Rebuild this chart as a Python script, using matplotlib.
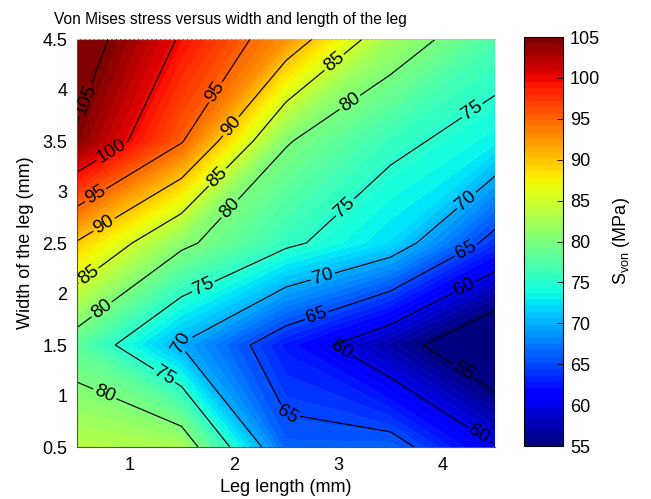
import numpy as np
import matplotlib
matplotlib.use('Agg')
import matplotlib.pyplot as plt
from matplotlib import ticker
from matplotlib.cm import ScalarMappable
from matplotlib.colors import Normalize

# grid of the parameter study (mm)
leg_length = [0.5, 1.5, 2.5, 3.5, 4.5]
leg_width = [0.5, 1.5, 2.5, 3.5, 4.5]

# von Mises stress (MPa), one row per leg width
stress_w05 = [83.5, 82.6, 66.2, 66.4, 60.2]
stress_w15 = [78.0, 69.8, 62.5, 57.0, 50.6]
stress_w25 = [89.7, 80.8, 75.7, 72.1, 63.7]
stress_w35 = [104.5, 95.3, 80.3, 75.9, 73.3]
stress_w45 = [107.3, 99.6, 92.6, 82.2, 77.1]

line_levels = list(range(55, 110, 5))
cbar_ticks = list(range(55, 110, 5))
x_ticks = [1, 2, 3, 4]
y_ticks = [0.5, 1, 1.5, 2, 2.5, 3, 3.5, 4, 4.5]

# where the contour labels sit (data coords)
label_pos = [(0.605, 3.90), (0.835, 3.39), (0.69, 2.95), (0.77, 2.66), (0.64, 2.14),
             (0.75, 1.83), (0.77, 1.03), (1.84, 3.97), (1.98, 3.64), (1.84, 3.15),
             (1.98, 2.82), (1.71, 2.07), (1.50, 1.52), (1.33, 1.19), (2.97, 4.26),
             (3.13, 3.85), (4.28, 3.80), (3.03, 2.89), (4.20, 2.95), (4.21, 2.45),
             (2.84, 2.22), (4.21, 2.07), (2.78, 1.83), (3.02, 1.43), (4.20, 1.25),
             (2.51, 0.78), (4.37, 0.67)]

plt.rcParams['font.family'] = ['Liberation Sans', 'DejaVu Sans']
plt.rcParams['mathtext.default'] = 'regular'

X, Y = np.meshgrid(leg_length, leg_width)
Z = np.array([stress_w05, stress_w15, stress_w25, stress_w35, stress_w45])

cmap = plt.get_cmap('jet', 64)
fig = plt.figure(figsize=(6.51, 4.99), dpi=100)
ax = fig.add_axes([77/651, 52/499, 418/651, 408/499])

cf = ax.contourf(X, Y, Z, levels=np.linspace(55, 105, 65), cmap=cmap, vmin=55, vmax=105,
                 extend='both', antialiased=True)
cf.set_edgecolor('face'); cf.set_linewidth(0.4)
cs = ax.contour(X, Y, Z, levels=line_levels, colors='k', linewidths=0.85)
ax.clabel(cs, fmt='%d', fontsize=13.5, manual=label_pos, inline=True, inline_spacing=2)

ax.set_xlim(0.5, 4.5); ax.set_ylim(0.5, 4.5)
ax.set_xticks(x_ticks); ax.set_yticks(y_ticks)
ax.yaxis.set_major_formatter(ticker.FormatStrFormatter('%g'))
ax.tick_params(length=0, labelsize=13, pad=7)
ax.set_xlabel('Leg length (mm)', fontsize=13, labelpad=4)
ax.set_ylabel('Width of the leg (mm)', fontsize=13, labelpad=6)
ax.text(0.366, 1.036, 'Von Mises stress versus width and length of the leg',
        transform=ax.transAxes, ha='center', va='baseline', fontsize=11.2)
for s in ['left', 'bottom']:
    ax.spines[s].set_color('#555555'); ax.spines[s].set_linewidth(0.8)
ax.spines['right'].set_visible(False)
ax.spines['top'].set_color('#bbbbbb'); ax.spines['top'].set_linestyle((0, (2, 2)))

cax = fig.add_axes([524/651, 53/499, 39/651, 409/499])
cb = fig.colorbar(ScalarMappable(norm=Normalize(55, 105), cmap=cmap), cax=cax, ticks=cbar_ticks)
cb.outline.set_linewidth(0.8)
cb.ax.tick_params(direction='in', length=4, width=0.6, labelsize=13, pad=5)
cb.set_label(r'S$_{von}$ (MPa)', fontsize=13, labelpad=8)

fig.savefig('out.png', dpi=100)
